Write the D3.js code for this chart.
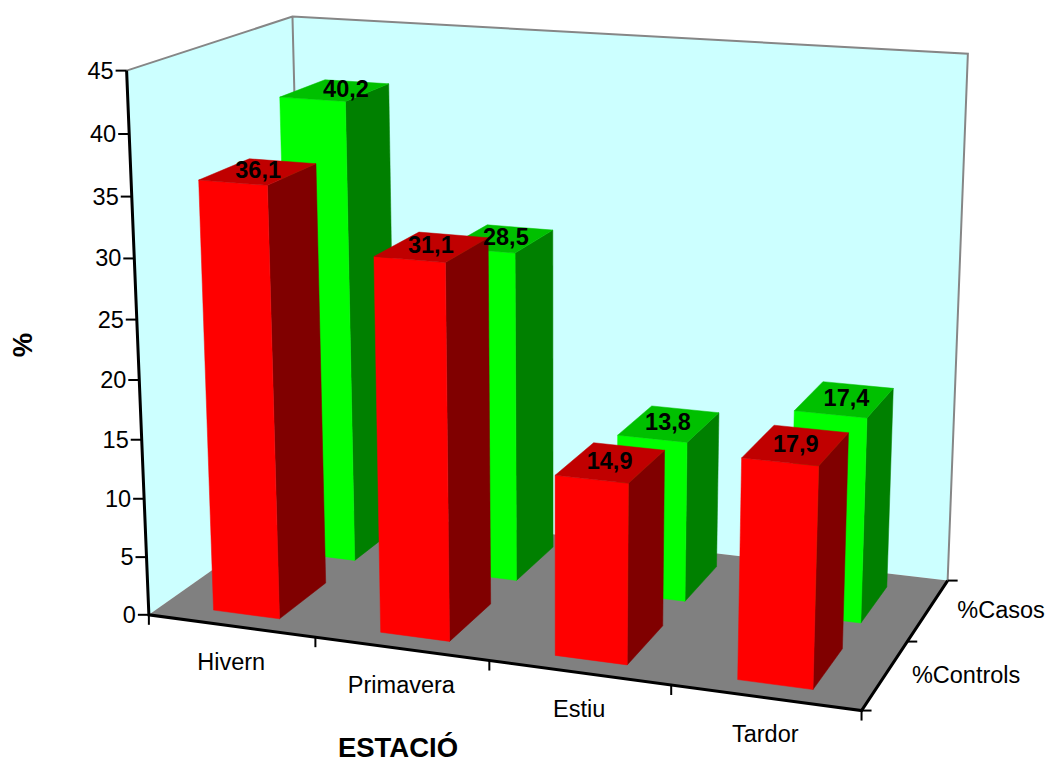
<!DOCTYPE html>
<html>
<head>
<meta charset="utf-8">
<style>
  html, body { margin: 0; padding: 0; background: #fff; }
  text { font-family: "Liberation Sans", Arial, sans-serif; fill: #000; }
</style>
<script src="https://cdn.jsdelivr.net/npm/d3@7"></script>
</head>
<body>
<svg id="chart" width="1047" height="758"></svg>
<script>
// Seasonal percentages for cases and controls
const seasons = ["Hivern", "Primavera", "Estiu", "Tardor"];
const seriesNames = ["%Controls", "%Casos"];
const controls = [36.1, 31.1, 14.9, 17.9];
const casos = [40.2, 28.5, 13.8, 17.4];
const valueTicks = [0, 5, 10, 15, 20, 25, 30, 35, 40, 45];

// Screen anchors of the plot box, used to fit the perspective camera
const boxAnchors = [
  [0, 0, 0, 149, 615], [1, 0, 0, 861, 711], [1, 1, 0, 948, 580],
  [0, 0, 1, 127, 70], [0, 1, 1, 292, 17], [1, 1, 1, 968, 54]
];

// Least-squares fit of an 11-parameter projective camera
function fitCamera(points) {
  const rows = [], rhs = [];
  for (const [x, y, z, sx, sy] of points) {
    rows.push([1, x, y, z, 0, 0, 0, 0, -sx * x, -sx * y, -sx * z]); rhs.push(sx);
    rows.push([0, 0, 0, 0, 1, x, y, z, -sy * x, -sy * y, -sy * z]); rhs.push(sy);
  }
  const n = 11;
  const M = d3.range(n).map(i => d3.range(n + 1).map(j =>
    d3.sum(rows, (r, k) => r[i] * (j < n ? r[j] : rhs[k]))));
  for (let i = 0; i < n; i++) {
    let p = i;
    for (let k = i + 1; k < n; k++) if (Math.abs(M[k][i]) > Math.abs(M[p][i])) p = k;
    [M[i], M[p]] = [M[p], M[i]];
    for (let k = 0; k < n; k++) {
      if (k === i) continue;
      const f = M[k][i] / M[i][i];
      for (let j = i; j <= n; j++) M[k][j] -= f * M[i][j];
    }
  }
  return d3.range(n).map(i => M[i][n] / M[i][i]);
}
const cam = fitCamera(boxAnchors);
function project(x, y, z) {
  const w = 1 + cam[8] * x + cam[9] * y + cam[10] * z;
  return [(cam[0] + cam[1] * x + cam[2] * y + cam[3] * z) / w,
          (cam[4] + cam[5] * x + cam[6] * y + cam[7] * z) / w];
}

const xScale = d3.scaleBand().domain(seasons).range([0, 1]).paddingInner(0.6).paddingOuter(0.3).align(0.5);
const yScale = d3.scaleBand().domain(seriesNames).range([0, 1]).paddingInner(0.4).paddingOuter(0.2).align(0.46);
const zScale = d3.scaleLinear().domain([0, 45]).range([0, 1]);

const svg = d3.select("#chart");
const poly = pts => "M" + pts.map(p => project(...p).map(v => v.toFixed(2)).join(",")).join("L") + "Z";
const seg = pts => d3.line()(pts.map(p => project(...p)));

// Walls and floor
svg.append("path").attr("d", poly([[0,0,0],[0,1,0],[0,1,1],[0,0,1]])).attr("fill", "#ccffff");
svg.append("path").attr("d", poly([[0,1,0],[1,1,0],[1,1,1],[0,1,1]])).attr("fill", "#ccffff");
svg.append("path").attr("d", poly([[0,0,0],[1,0,0],[1,1,0],[0,1,0]])).attr("fill", "#808080");
svg.append("path")
  .attr("d", seg([[0,0,1],[0,1,1],[1,1,1],[1,1,0]]) + seg([[0,1,1],[0,1,0]]))
  .attr("fill", "none").attr("stroke", "#868686").attr("stroke-width", 2);

// Bars, back row first so the front row overlaps it
const palette = {
  "%Casos": { front: "#00ff00", top: "#00c000", side: "#008000" },
  "%Controls": { front: "#ff0000", top: "#c00000", side: "#800000" }
};
const rowValues = { "%Casos": casos, "%Controls": controls };
const labelNudge = { "%Casos": [11, 5, -1, 2], "%Controls": [0, -1, -1, 0] };
const labels = [];
for (const name of [...seriesNames].reverse()) {
  const colors = palette[name];
  const v0 = yScale(name), v1 = v0 + yScale.bandwidth();
  const row = svg.append("g").attr("class", "row");
  seasons.forEach((season, i) => {
    const u0 = xScale(season), u1 = u0 + xScale.bandwidth(), h = zScale(rowValues[name][i]);
    const g = row.append("g");
    const face = (pts, c) => g.append("path").attr("d", poly(pts)).attr("fill", c)
      .attr("stroke", c).attr("stroke-width", 0.5);
    face([[u1,v0,0],[u1,v1,0],[u1,v1,h],[u1,v0,h]], colors.side);
    face([[u0,v0,0],[u1,v0,0],[u1,v0,h],[u0,v0,h]], colors.front);
    face([[u0,v0,h],[u1,v0,h],[u1,v1,h],[u0,v1,h]], colors.top);
    labels.push({ value: rowValues[name][i], nudge: labelNudge[name][i], pos: project((u0 + u1) / 2, (v0 + v1) / 2, h) });
  });
}
// Value labels sit on the bar tops, above every bar
const labelLayer = svg.append("g");
labels.forEach(d => {
  labelLayer.append("text").attr("x", d.pos[0] + d.nudge).attr("y", d.pos[1] + 6.5)
    .attr("text-anchor", "middle").attr("font-size", 23.5).attr("font-weight", "bold")
    .text(String(d.value).replace(".", ","));
});

// Axis lines
const axes = svg.append("g").attr("stroke", "#000").attr("fill", "none").attr("stroke-width", 3);
axes.append("path").attr("d", seg([[0,0,1],[0,0,0],[1,0,0],[1,1,0]]));

// Value axis
valueTicks.forEach(t => {
  const [px, py] = project(0, 0, zScale(t));
  axes.append("path").attr("d", d3.line()([[px - 11, py], [px, py]])).attr("stroke-width", 2);
  svg.append("text").attr("x", px - 13).attr("y", py + 8).attr("text-anchor", "end")
    .attr("font-size", 23.5).text(t);
});

// Season axis
const seasonEdges = d3.range(seasons.length + 1).map(i => i / seasons.length);
seasonEdges.forEach(u => {
  const [px, py] = project(u, 0, 0);
  axes.append("path").attr("d", d3.line()([[px, py], [px, py + 10]])).attr("stroke-width", 2);
});
seasons.forEach((s, i) => {
  const [px, py] = project((i + 0.5) / seasons.length, 0, 0);
  svg.append("text").attr("x", px).attr("y", py + 44).attr("text-anchor", "middle")
    .attr("font-size", 23.5).text(s);
});

// Series axis
[0, 0.5, 1].forEach(v => {
  const [px, py] = project(1, v, 0);
  axes.append("path").attr("d", d3.line()([[px, py], [px + 10, py]])).attr("stroke-width", 2);
});
seriesNames.forEach((s, i) => {
  const [px, py] = project(1, (i + 0.5) / 2, 0);
  svg.append("text").attr("x", px + 81 - i * 8).attr("y", py + 8).attr("text-anchor", "middle")
    .attr("font-size", 23.5).text(s);
});

// Axis titles
svg.append("text").attr("x", 398).attr("y", 757).attr("text-anchor", "middle")
  .attr("font-size", 27.5).attr("font-weight", "bold").text("ESTACIÓ");
svg.append("text").attr("transform", "translate(32,345) rotate(-90)").attr("text-anchor", "middle")
  .attr("font-size", 27.5).attr("font-weight", "bold").text("%");
</script>
</body>
</html>
